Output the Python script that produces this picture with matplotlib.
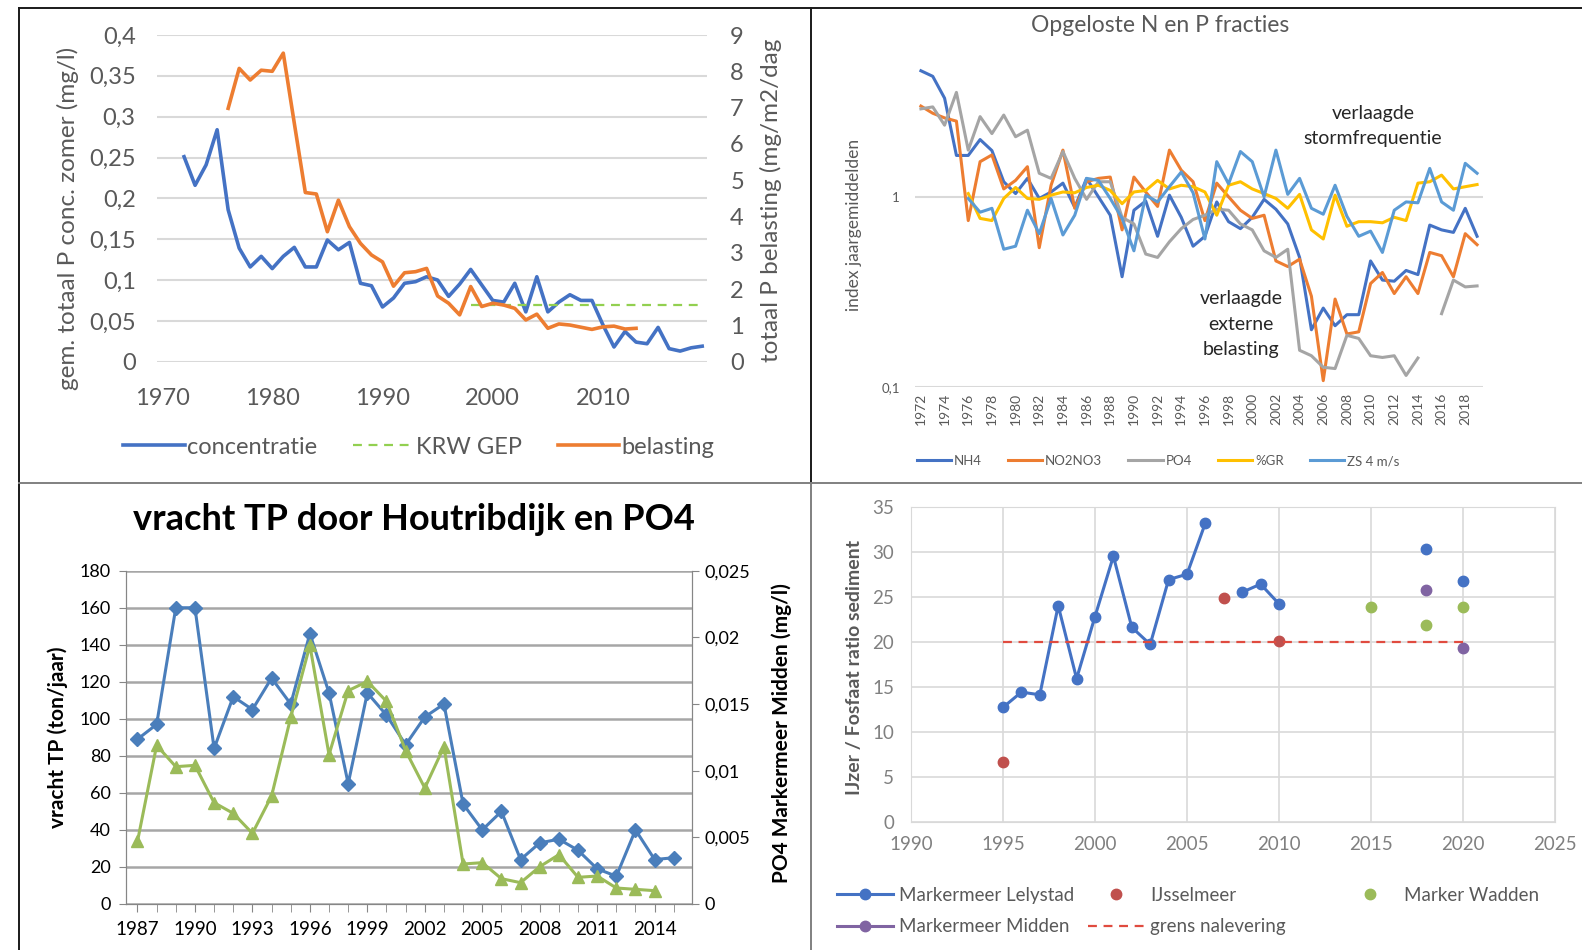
import numpy as np
import matplotlib
matplotlib.use("Agg")
import matplotlib.pyplot as plt
from matplotlib.lines import Line2D
from matplotlib.ticker import NullLocator

plt.rcParams["font.family"] = ["Lato", "DejaVu Sans"]

W, H = 1582, 950
nan = np.nan

# --- linksboven: totaal P concentratie en belasting ---
conc_years = list(range(1972, 2020))
conc_values = [0.251, 0.216, 0.241, 0.284, 0.186, 0.139, 0.116, 0.129, 0.114, 0.129,
               0.140, 0.116, 0.116, 0.149, 0.137, 0.146, 0.096, 0.093, 0.067, 0.078,
               0.096, 0.098, 0.104, 0.100, 0.080, 0.095, 0.113, 0.094, 0.075, 0.073,
               0.096, 0.061, 0.104, 0.061, 0.073, 0.082, 0.075, 0.075, 0.045, 0.018,
               0.037, 0.024, 0.022, 0.042, 0.016, 0.013, 0.017, 0.019]
bel_years = list(range(1976, 2014))
bel_values = [6.98, 8.08, 7.76, 8.03, 8.0, 8.5, 6.57, 4.66, 4.62, 3.58,
              4.45, 3.72, 3.26, 2.94, 2.75, 2.08, 2.45, 2.48, 2.57, 1.81,
              1.61, 1.29, 2.07, 1.52, 1.61, 1.56, 1.47, 1.15, 1.31, 0.92,
              1.04, 1.01, 0.95, 0.89, 0.96, 0.98, 0.90, 0.92]
krw_years = [1998, 2019]
krw_values = [0.07, 0.07]
tl_left_ticks = [0, 0.05, 0.1, 0.15, 0.2, 0.25, 0.3, 0.35, 0.4]
tl_left_labels = ["0", "0,05", "0,1", "0,15", "0,2", "0,25", "0,3", "0,35", "0,4"]
tl_right_ticks = [0, 1, 2, 3, 4, 5, 6, 7, 8, 9]
tl_x_ticks = [1970, 1980, 1990, 2000, 2010]

# --- rechtsboven: opgeloste N en P fracties (index) ---
frac_years = list(range(1972, 2020))
nh4 = [4.6, 4.3, 3.3, 1.65, 1.65, 2.0, 1.75, 1.2, 1.04, 1.25,
       0.98, 1.06, 1.18, 0.88, 1.25, 1.0, 0.8, 0.38, 0.85, 0.95,
       0.62, 1.02, 0.78, 0.55, 0.62, 0.94, 0.74, 0.68, 0.78, 0.97,
       0.86, 0.72, 0.48, 0.20, 0.26, 0.21, 0.24, 0.24, 0.46, 0.365,
       0.36, 0.41, 0.39, 0.71, 0.67, 0.65, 0.87, 0.62]
no2no3 = [3.0, 2.75, 2.6, 2.5, 0.75, 1.53, 1.66, 1.1, 1.22, 1.44,
          0.54, 1.15, 1.76, 0.87, 1.2, 1.25, 1.27, 0.67, 1.27, 1.06,
          0.89, 1.76, 1.38, 1.2, 0.75, 1.18, 1.0, 0.85, 0.77, 0.80,
          0.46, 0.43, 0.47, 0.30, 0.108, 0.29, 0.19, 0.195, 0.35, 0.40,
          0.31, 0.38, 0.31, 0.51, 0.49, 0.38, 0.64, 0.56]
po4_index = [2.9, 2.97, 2.38, 3.54, 1.76, 2.64, 2.15, 2.69, 2.07, 2.24,
             1.33, 1.25, 1.73, 1.25, 0.97, 1.2, 1.2, 0.78, 0.72, 0.50,
             0.48, 0.58, 0.68, 0.76, 0.80, 0.86, 0.85, 0.72, 0.67, 0.52,
             0.48, 0.53, 0.156, 0.146, 0.127, 0.125, 0.187, 0.18, 0.146, 0.143,
             0.146, 0.115, 0.142, nan, 0.243, 0.365, 0.336, 0.34]
gr_index = [nan, nan, nan, nan, 1.04, 0.77, 0.75, 0.98, 1.12, 0.98,
            0.97, 1.02, 1.06, 1.05, 1.12, 1.15, 1.08, 0.92, 1.06, 1.08,
            1.22, 1.1, 1.15, 1.13, 1.06, 0.80, 1.15, 1.2, 1.1, 1.04,
            0.98, 0.87, 1.03, 0.67, 0.60, 1.02, 0.70, 0.74, 0.74, 0.73,
            0.78, 0.75, 1.18, 1.2, 1.3, 1.1, 1.13, 1.16]
zs_index = [nan, nan, nan, nan, 0.98, 0.83, 0.87, 0.53, 0.55, 0.85,
            0.64, 0.98, 0.63, 0.80, 1.25, 1.22, 0.98, 0.77, 0.52, 1.02,
            0.94, 1.13, 1.35, 1.05, 0.60, 1.53, 1.17, 1.73, 1.53, 1.0,
            1.76, 1.03, 1.25, 0.87, 0.81, 1.15, 0.79, 0.62, 0.66, 0.51,
            0.85, 0.94, 0.93, 1.41, 0.94, 0.85, 1.5, 1.33]
tr_x_ticks = list(range(1972, 2019, 2))

# --- linksonder: vracht TP en PO4 ---
tp_years = list(range(1987, 2016))
tp_values = [89, 97, 160, 160, 84, 112, 105, 122, 108, 146,
             114, 65, 114, 102, 86, 101, 108, 54, 40, 50,
             24, 33, 35, 29, 19, 15, 40, 24, 25]
po4_years = list(range(1987, 2015))
po4_values = [0.0047, 0.0119, 0.0103, 0.0104, 0.0076, 0.0068, 0.0053, 0.0081, 0.0140, 0.0194,
              0.0112, 0.0160, 0.0167, 0.0152, 0.0115, 0.0087, 0.0118, 0.0030, 0.0031, 0.0019,
              0.0016, 0.0028, 0.0037, 0.0020, 0.0021, 0.0012, 0.0011, 0.0010]
bl_x_ticks = list(range(1987, 2015, 3))
bl_left_ticks = list(range(0, 181, 20))
bl_right_ticks = [0, 0.005, 0.01, 0.015, 0.02, 0.025]
bl_right_labels = ["0", "0,005", "0,01", "0,015", "0,02", "0,025"]

# --- rechtsonder: ijzer/fosfaat ratio ---
lely_years = list(range(1995, 2021))
lely_values = [12.7, 14.4, 14.1, 24.0, 15.9, 22.8, 29.5, 21.6, 19.7, 26.9,
               27.5, 33.2, nan, 25.5, 26.4, 24.2, nan, nan, nan, nan,
               nan, nan, nan, 30.3, nan, 26.7]
ijssel_years = [1995, 2007, 2010]
ijssel_values = [6.6, 24.9, 20.1]
wadden_years = [2015, 2018, 2020]
wadden_values = [23.9, 21.9, 23.9]
midden_years = [2018, 2019, 2020]
midden_values = [25.7, nan, 19.3]
grens_years = [1995, 2020]
grens_values = [20, 20]

fig = plt.figure(figsize=(W / 100, H / 100), dpi=100)


def axes_px(left, top, right, bottom):
    return fig.add_axes([left / W, 1 - bottom / H, (right - left) / W, (bottom - top) / H])


GREY = "#595959"

# ---------------- linksboven ----------------
ax1 = axes_px(156.5, 35, 706.6, 361.7)
ax1r = ax1.twinx()
ax1.plot(conc_years, conc_values, color="#4472C4", lw=2.6, label="concentratie")
ax1.plot(krw_years, krw_values, color="#92D050", lw=1.6, ls=(0, (4, 3)), label="KRW GEP")
ax1r.plot(bel_years, bel_values, color="#ED7D31", lw=2.6, label="belasting")
ax1.set_xlim(1969.5, 2019.4)
ax1.set_ylim(0, 0.4)
ax1r.set_ylim(0, 9)
ax1.set_yticks(tl_left_ticks, tl_left_labels)
ax1r.set_yticks(tl_right_ticks)
ax1.set_xticks(tl_x_ticks)
ax1.grid(axis="y", color="#D9D9D9", lw=1.5)
ax1.set_axisbelow(True)
for a in (ax1, ax1r):
    for s in a.spines.values():
        s.set_visible(False)
ax1.tick_params(axis="y", length=0, labelsize=17, colors=GREY, pad=15)
ax1.tick_params(axis="x", length=0, labelsize=17, colors=GREY, pad=19)
ax1r.tick_params(axis="y", length=0, labelsize=17, colors=GREY, pad=17)
ax1.set_ylabel("gem. totaal P conc. zomer (mg/l)", fontsize=17.5, color=GREY)
ax1.yaxis.set_label_coords(-0.141, 0.44)
ax1r.set_ylabel("totaal P belasting (mg/m2/dag", fontsize=17.5, color=GREY)
ax1r.yaxis.set_label_coords(1.096, 0.495)
h1 = ax1.get_lines() + ax1r.get_lines()
ax1.legend(h1, [l.get_label() for l in h1], loc="center",
           bbox_to_anchor=(419 / W, 1 - 447 / H), bbox_transform=fig.transFigure,
           ncol=3, frameon=False, fontsize=17, handlelength=2.6, handletextpad=0.1,
           columnspacing=1.5, labelcolor=GREY)

# ---------------- rechtsboven ----------------
ax2 = axes_px(915, 56, 1483, 387)
ax2.set_yscale("log")
ax2.plot(frac_years, nh4, color="#4472C4", lw=2.2, label="NH4")
ax2.plot(frac_years, no2no3, color="#ED7D31", lw=2.2, label="NO2NO3")
ax2.plot(frac_years, po4_index, color="#A5A5A5", lw=2.2, label="PO4")
ax2.plot(frac_years, gr_index, color="#FFC000", lw=2.2, label="%GR")
ax2.plot(frac_years, zs_index, color="#5B9BD5", lw=2.2, label="ZS 4 m/s")
ax2.set_xlim(1971.5, 2019.5)
ax2.set_ylim(0.1, 5.5)
ax2.set_yticks([0.1, 1], ["0,1", "1"])
ax2.yaxis.set_minor_locator(NullLocator())
ax2.set_xticks(tr_x_ticks)
ax2.tick_params(axis="x", length=0, labelsize=10, colors=GREY, pad=4, labelrotation=90)
ax2.tick_params(axis="y", length=0, labelsize=9.5, colors=GREY, pad=11)
ax2.grid(axis="y", color="#D9D9D9", lw=1.5)
ax2.set_axisbelow(True)
for s in ax2.spines.values():
    s.set_visible(False)
ax2.set_ylabel("index jaargemiddelden", fontsize=12.5, color=GREY)
ax2.yaxis.set_label_coords(-0.093, 0.49)
ax2.text((1160 - 915) / 568, (387 - 25) / 331, "Opgeloste N en P fracties", transform=ax2.transAxes,
         ha="center", va="center", fontsize=16.5, color=GREY)
ax2.text(2010.2, 2.36, "verlaagde\nstormfrequentie", ha="center", va="center",
         fontsize=14, linespacing=1.6, color="#262626")
ax2.text(1999.05, 0.214, "verlaagde\nexterne\nbelasting", ha="center", va="center",
         fontsize=14, linespacing=1.6, color="#262626")
ax2.legend(loc="center", bbox_to_anchor=(1158 / W, 1 - 461 / H), bbox_transform=fig.transFigure,
           ncol=5, frameon=False, fontsize=9.5, handlelength=2.6, handletextpad=0.2,
           columnspacing=2.0, labelcolor=GREY)

# ---------------- linksonder ----------------
ax3 = axes_px(126, 570.7, 692, 904)
ax3r = ax3.twinx()
ax3.plot(tp_years, tp_values, color="#4A7EBB", lw=2.2, marker="D", ms=7)
ax3r.plot(po4_years, po4_values, color="#9BBB59", lw=2.2, marker="^", ms=8.5)
ax3.set_xlim(1986.4, 2015.95)
ax3.set_ylim(0, 180)
ax3r.set_ylim(0, 0.025)
ax3.set_yticks(bl_left_ticks)
ax3r.set_yticks(bl_right_ticks, bl_right_labels)
ax3.set_xticks(bl_x_ticks)
ax3.set_xticks(tp_years, minor=True)
ax3.grid(axis="y", color="#A6A6A6", lw=1.8)
ax3.set_axisbelow(True)
for a in (ax3, ax3r):
    a.spines["top"].set_visible(False)
    for side in ("left", "right", "bottom"):
        a.spines[side].set_color("#868686")
ax3.tick_params(axis="y", length=5, color="#868686", labelsize=13, pad=6)
ax3r.tick_params(axis="y", length=5, color="#868686", labelsize=13, pad=4)
ax3.tick_params(axis="x", which="both", length=6, color="#868686", labelsize=13.5, pad=6)
ax3.set_ylabel("vracht TP (ton/jaar)", fontsize=15, fontweight="bold")
ax3.yaxis.set_label_coords(-0.102, 0.50)
ax3r.set_ylabel("PO4 Markermeer Midden (mg/l)", fontsize=15, fontweight="bold")
ax3r.yaxis.set_label_coords(1.141, 0.513)
fig.text(414 / W, 1 - 520 / H, "vracht TP door Houtribdijk en PO4", fontsize=26,
         fontweight="bold", ha="center", va="center")

# ---------------- rechtsonder ----------------
ax4 = axes_px(911, 506.7, 1555, 821.7)
ax4.plot(lely_years, lely_values, color="#4472C4", lw=2.2, marker="o", ms=7.5,
         label="Markermeer Lelystad")
ax4.plot(ijssel_years, ijssel_values, ls="none", marker="o", ms=7.5, color="#C0504D",
         label="IJsselmeer")
ax4.plot(wadden_years, wadden_values, ls="none", marker="o", ms=7.5, color="#9BBB59",
         label="Marker Wadden")
ax4.plot(midden_years, midden_values, color="#8064A2", lw=2.2, marker="o", ms=7.5,
         label="Markermeer Midden")
ax4.plot(grens_years, grens_values, color="#E04B3F", lw=1.6, ls=(0, (4, 3)),
         label="grens nalevering")
ax4.set_xlim(1990, 2025)
ax4.set_ylim(0, 35)
ax4.set_xticks(range(1990, 2026, 5))
ax4.set_yticks(range(0, 36, 5))
ax4.grid(color="#D9D9D9", lw=1.2)
ax4.set_axisbelow(True)
for s in ax4.spines.values():
    s.set_color("#D9D9D9")
ax4.tick_params(axis="y", length=0, labelsize=13.5, colors="#808080", pad=12)
ax4.tick_params(axis="x", length=0, labelsize=13.5, colors="#808080", pad=10)
ax4.set_ylabel("IJzer / Fosfaat ratio sediment", fontsize=14, fontweight="bold", color=GREY)
ax4.yaxis.set_label_coords(-0.0745, 0.49)
lines4 = ax4.get_lines()
legend_cols = [([lines4[0], lines4[3]], 837), ([lines4[1], lines4[4]], 1088), ([lines4[2]], 1342)]
for handles, xpos in legend_cols:
    fig.legend(handles, [h.get_label() for h in handles], loc="upper left",
               bbox_to_anchor=(xpos / W, 1 - 887 / H), frameon=False, fontsize=13.5,
               handlelength=3.0, handletextpad=0.3, labelspacing=0.75, borderpad=0,
               borderaxespad=0, labelcolor=GREY)

# ---------------- kaderlijnen ----------------
frame_lines = [((19, 1582), (8, 8), "#1a1a1a"), ((19, 19), (8, 950), "#1a1a1a"),
               ((811, 811), (8, 483), "#1a1a1a"), ((811, 811), (483, 950), "#808080"),
               ((19, 1582), (483, 483), "#808080")]
for xs, ys, col in frame_lines:
    fig.add_artist(Line2D([x / W for x in xs], [1 - y / H for y in ys],
                          transform=fig.transFigure, color=col, lw=1.4))

fig.savefig("out.png", dpi=100)
